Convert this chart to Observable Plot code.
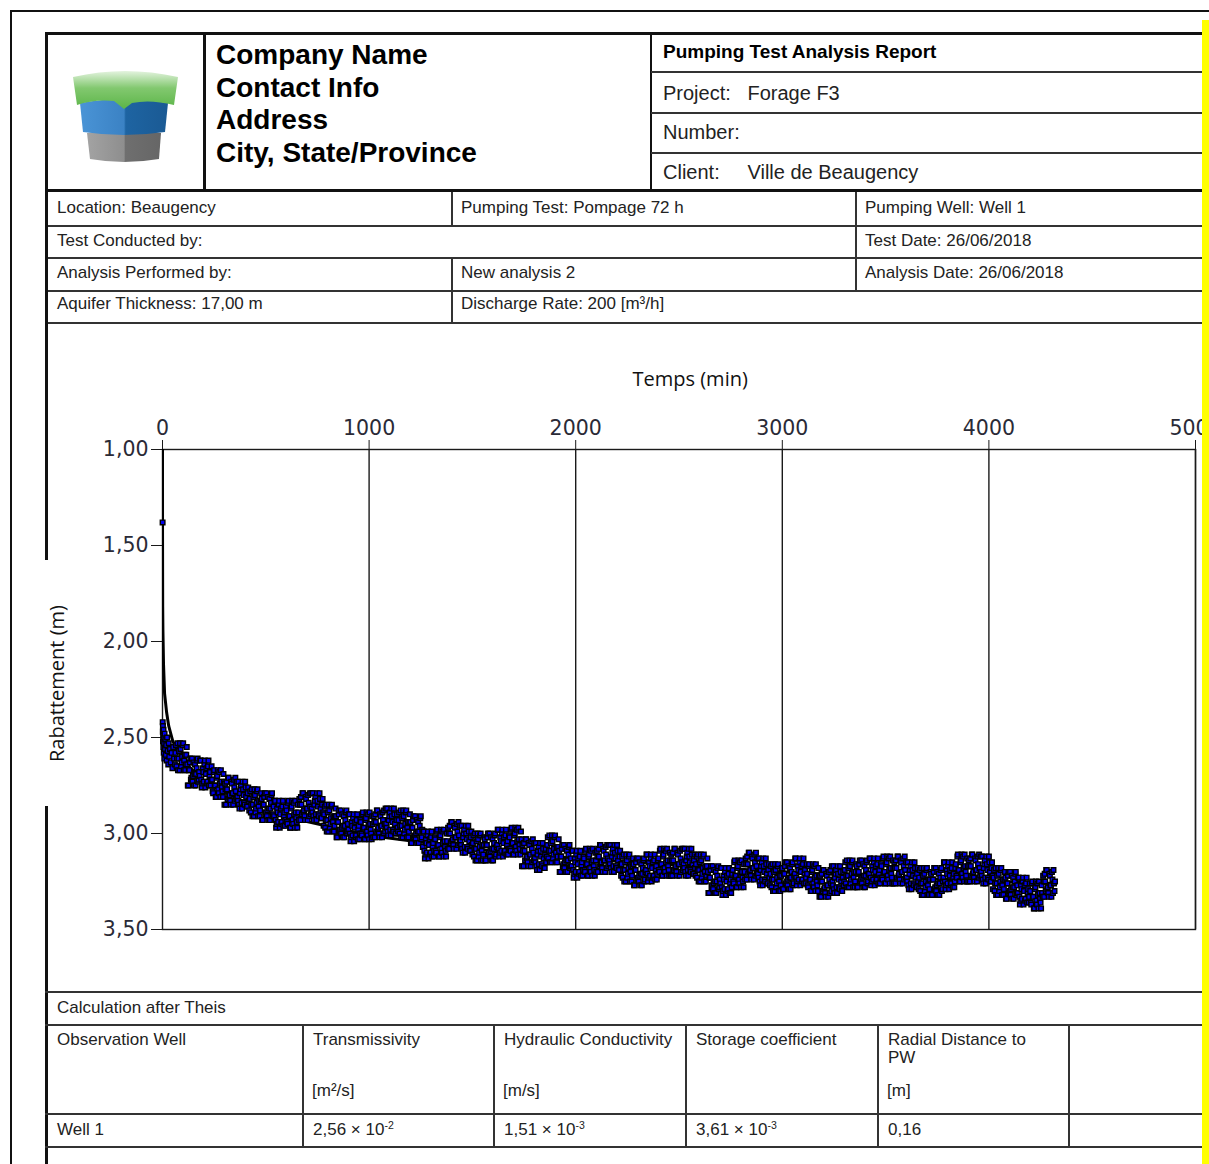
<!DOCTYPE html>
<html>
<head>
<meta charset="utf-8">
<script src="https://cdn.jsdelivr.net/npm/d3@7"></script>
<script src="https://cdn.jsdelivr.net/npm/@observablehq/plot@0.6"></script>
<style>
  html, body { margin: 0; padding: 0; background: #fff; }
  #page { position: relative; width: 1209px; height: 1164px; overflow: hidden; background: #fff; font-family: "Liberation Sans", Arial, sans-serif; color: #111; }
  .ln { position: absolute; background: #111; }
  .tx { position: absolute; white-space: nowrap; }
  #chart { position: absolute; left: 46px; top: 324px; width: 1179px; height: 666px; }
  #chart svg { overflow: visible; max-width: none !important; }
  sup { font-size: 0.62em; vertical-align: 0.55em; line-height: 0; }
</style>
</head>
<body>
<div id="page"></div>
<script>
// ---- Report header fields ----
const companyLines = ["Company Name", "Contact Info", "Address", "City, State/Province"];
const reportTitle = "Pumping Test Analysis Report";
const projectName = "Forage F3";
const clientName = "Ville de Beaugency";
const infoCells = [
  "Location: Beaugency", "Pumping Test: Pompage 72 h", "Pumping Well: Well 1",
  "Test Conducted by:", "Test Date: 26/06/2018",
  "Analysis Performed by:", "New analysis 2", "Analysis Date: 26/06/2018",
  "Aquifer Thickness: 17,00 m", "Discharge Rate: 200 [m³/h]"
];
const resultHeaders = ["Observation Well", "Transmissivity", "Hydraulic Conductivity", "Storage coefficient", "Radial Distance to<br>PW"];
const resultUnits = ["", "[m²/s]", "[m/s]", "", "[m]"];
const resultRow = ["Well 1", "2,56 × 10<sup>-2</sup>", "1,51 × 10<sup>-3</sup>", "3,61 × 10<sup>-3</sup>", "0,16"];

// ---- Chart axes ----
const xTicks = [0, 1000, 2000, 3000, 4000, 5000];
const yTicks = [1.0, 1.5, 2.0, 2.5, 3.0, 3.5];
const xTitle = "Temps (min)";
const yTitle = "Rabattement (m)";

// ---- Theis type curve (time in min, drawdown in m) ----
const curveTime = [0.01, 0.05, 0.2, 0.5, 1, 2, 5, 10, 20, 30, 50, 100, 200, 500, 1000, 1500, 2000, 3000, 4000, 4320];
const curveDrawdown = [1.00, 1.20, 1.45, 1.62, 1.82, 1.94, 2.12, 2.27, 2.37, 2.44, 2.52, 2.62, 2.73, 2.89, 3.01, 3.08, 3.13, 3.20, 3.25, 3.26];

// ---- Observed drawdown, first hour (min, m) ----
const earlyTime = [0.5, 1, 1.5, 2, 2.5, 3, 4, 5, 6, 7, 8, 9, 10, 12, 14, 16, 18, 20, 22, 25, 28, 30, 33, 36, 40, 44, 48, 52, 56];
const earlyDrawdown = [1.38, 2.42, 2.47, 2.44, 2.52, 2.49, 2.55, 2.46, 2.58, 2.50, 2.53, 2.61, 2.48, 2.56, 2.51, 2.59, 2.54, 2.62, 2.50, 2.57, 2.64, 2.53, 2.60, 2.56, 2.63, 2.58, 2.66, 2.55, 2.61];

// ---- Observed drawdown, logged every 2.5 min from 60 min to 4320 min (m), one hour per row ----
const logStartMin = 60;
const logStepMin = 2.5;
const loggedDrawdown = [
  2.64,2.58,2.54,2.65,2.61,2.53,2.67,2.61,2.57,2.67,2.53,2.56,2.65,2.63,2.60,2.54,2.53,2.67,2.62,2.59,2.67,2.64,2.59,2.55,
  2.64,2.75,2.75,2.67,2.67,2.63,2.61,2.72,2.71,2.61,2.73,2.70,2.63,2.75,2.69,2.64,2.75,2.69,2.66,2.62,2.61,2.73,2.72,2.68,
  2.70,2.62,2.62,2.72,2.76,2.74,2.66,2.68,2.73,2.64,2.62,2.76,2.69,2.66,2.74,2.73,2.65,2.62,2.75,2.70,2.68,2.75,2.72,2.65,
  2.72,2.78,2.79,2.68,2.67,2.75,2.75,2.81,2.81,2.71,2.70,2.67,2.77,2.79,2.68,2.74,2.81,2.67,2.73,2.76,2.78,2.81,2.69,2.73,
  2.85,2.74,2.77,2.85,2.73,2.77,2.82,2.71,2.71,2.81,2.80,2.83,2.85,2.73,2.74,2.79,2.79,2.85,2.72,2.76,2.83,2.71,2.78,2.82,
  2.73,2.81,2.83,2.73,2.85,2.87,2.79,2.77,2.75,2.84,2.87,2.73,2.77,2.80,2.84,2.85,2.73,2.76,2.81,2.86,2.86,2.79,2.76,2.83,
  2.88,2.82,2.78,2.89,2.85,2.77,2.91,2.85,2.81,2.91,2.77,2.80,2.89,2.87,2.84,2.78,2.77,2.91,2.86,2.83,2.91,2.88,2.83,2.79,
  2.82,2.93,2.93,2.85,2.85,2.81,2.79,2.90,2.89,2.79,2.91,2.88,2.81,2.93,2.87,2.82,2.93,2.87,2.84,2.80,2.79,2.91,2.90,2.86,
  2.91,2.83,2.83,2.93,2.97,2.95,2.87,2.89,2.94,2.85,2.83,2.97,2.90,2.87,2.95,2.94,2.86,2.83,2.96,2.91,2.89,2.96,2.93,2.86,
  2.88,2.94,2.95,2.84,2.83,2.91,2.91,2.97,2.97,2.87,2.86,2.83,2.93,2.95,2.84,2.90,2.97,2.83,2.89,2.92,2.94,2.97,2.85,2.89,
  2.93,2.82,2.85,2.93,2.81,2.85,2.90,2.79,2.79,2.89,2.88,2.91,2.93,2.81,2.82,2.87,2.87,2.93,2.80,2.84,2.91,2.79,2.86,2.90,
  2.79,2.87,2.89,2.79,2.91,2.93,2.85,2.83,2.81,2.90,2.93,2.79,2.83,2.86,2.90,2.91,2.79,2.82,2.87,2.92,2.92,2.85,2.82,2.89,
  2.96,2.90,2.86,2.97,2.93,2.85,2.99,2.93,2.89,2.99,2.85,2.88,2.97,2.95,2.92,2.86,2.85,2.99,2.94,2.91,2.99,2.96,2.91,2.87,
  2.91,3.02,3.02,2.94,2.94,2.90,2.88,2.99,2.98,2.88,3.00,2.97,2.90,3.02,2.96,2.91,3.02,2.96,2.93,2.89,2.88,3.00,2.99,2.95,
  2.98,2.90,2.90,3.00,3.04,3.02,2.94,2.96,3.01,2.92,2.90,3.04,2.97,2.94,3.02,3.01,2.93,2.90,3.03,2.98,2.96,3.03,3.00,2.93,
  2.94,3.00,3.01,2.90,2.89,2.97,2.97,3.03,3.03,2.93,2.92,2.89,2.99,3.01,2.90,2.96,3.03,2.89,2.95,2.98,3.00,3.03,2.91,2.95,
  3.02,2.91,2.94,3.02,2.90,2.94,2.99,2.88,2.88,2.98,2.97,3.00,3.02,2.90,2.91,2.96,2.96,3.02,2.89,2.93,3.00,2.88,2.95,2.99,
  2.87,2.95,2.97,2.87,2.99,3.01,2.93,2.91,2.89,2.98,3.01,2.87,2.91,2.94,2.98,2.99,2.87,2.90,2.95,3.00,3.00,2.93,2.90,2.97,
  2.99,2.93,2.89,3.00,2.96,2.88,3.02,2.96,2.92,3.02,2.88,2.91,3.00,2.98,2.95,2.89,2.88,3.02,2.97,2.94,3.02,2.99,2.94,2.90,
  2.94,3.05,3.05,2.97,2.97,2.93,2.91,3.02,3.01,2.91,3.03,3.00,2.93,3.05,2.99,2.94,3.05,2.99,2.96,2.92,2.91,3.03,3.02,2.98,
  3.07,2.99,2.99,3.09,3.13,3.11,3.03,3.05,3.10,3.01,2.99,3.13,3.06,3.03,3.11,3.10,3.02,2.99,3.12,3.07,3.05,3.12,3.09,3.02,
  3.03,3.09,3.10,2.99,2.98,3.06,3.06,3.12,3.12,3.02,3.01,2.98,3.08,3.10,2.99,3.05,3.12,2.98,3.04,3.07,3.09,3.12,3.00,3.04,
  3.08,2.97,3.00,3.08,2.96,3.00,3.05,2.94,2.94,3.04,3.03,3.06,3.08,2.96,2.97,3.02,3.02,3.08,2.95,2.99,3.06,2.94,3.01,3.05,
  2.96,3.04,3.06,2.96,3.08,3.10,3.02,3.00,2.98,3.07,3.10,2.96,3.00,3.03,3.07,3.08,2.96,2.99,3.04,3.09,3.09,3.02,2.99,3.06,
  3.11,3.05,3.01,3.12,3.08,3.00,3.14,3.08,3.04,3.14,3.00,3.03,3.12,3.10,3.07,3.01,3.00,3.14,3.09,3.06,3.14,3.11,3.06,3.02,
  3.03,3.14,3.14,3.06,3.06,3.02,3.00,3.11,3.10,3.00,3.12,3.09,3.02,3.14,3.08,3.03,3.14,3.08,3.05,3.01,3.00,3.12,3.11,3.07,
  3.06,2.98,2.98,3.08,3.12,3.10,3.02,3.04,3.09,3.00,2.98,3.12,3.05,3.02,3.10,3.09,3.01,2.98,3.11,3.06,3.04,3.11,3.08,3.01,
  3.02,3.08,3.09,2.98,2.97,3.05,3.05,3.11,3.11,3.01,3.00,2.97,3.07,3.09,2.98,3.04,3.11,2.97,3.03,3.06,3.08,3.11,2.99,3.03,
  3.17,3.06,3.09,3.17,3.05,3.09,3.14,3.03,3.03,3.13,3.12,3.15,3.17,3.05,3.06,3.11,3.11,3.17,3.04,3.08,3.15,3.03,3.10,3.14,
  3.05,3.13,3.15,3.05,3.17,3.19,3.11,3.09,3.07,3.16,3.19,3.05,3.09,3.12,3.16,3.17,3.05,3.08,3.13,3.18,3.18,3.11,3.08,3.15,
  3.12,3.06,3.02,3.13,3.09,3.01,3.15,3.09,3.05,3.15,3.01,3.04,3.13,3.11,3.08,3.02,3.01,3.15,3.10,3.07,3.15,3.12,3.07,3.03,
  3.09,3.20,3.20,3.12,3.12,3.08,3.06,3.17,3.16,3.06,3.18,3.15,3.08,3.20,3.14,3.09,3.20,3.14,3.11,3.07,3.06,3.18,3.17,3.13,
  3.17,3.09,3.09,3.19,3.23,3.21,3.13,3.15,3.20,3.11,3.09,3.23,3.16,3.13,3.21,3.20,3.12,3.09,3.22,3.17,3.15,3.22,3.19,3.12,
  3.13,3.19,3.20,3.09,3.08,3.16,3.16,3.22,3.22,3.12,3.11,3.08,3.18,3.20,3.09,3.15,3.22,3.08,3.14,3.17,3.19,3.22,3.10,3.14,
  3.20,3.09,3.12,3.20,3.08,3.12,3.17,3.06,3.06,3.16,3.15,3.18,3.20,3.08,3.09,3.14,3.14,3.20,3.07,3.11,3.18,3.06,3.13,3.17,
  3.06,3.14,3.16,3.06,3.18,3.20,3.12,3.10,3.08,3.17,3.20,3.06,3.10,3.13,3.17,3.18,3.06,3.09,3.14,3.19,3.19,3.12,3.09,3.16,
  3.22,3.16,3.12,3.23,3.19,3.11,3.25,3.19,3.15,3.25,3.11,3.14,3.23,3.21,3.18,3.12,3.11,3.25,3.20,3.17,3.25,3.22,3.17,3.13,
  3.16,3.27,3.27,3.19,3.19,3.15,3.13,3.24,3.23,3.13,3.25,3.22,3.15,3.27,3.21,3.16,3.27,3.21,3.18,3.14,3.13,3.25,3.24,3.20,
  3.19,3.11,3.11,3.21,3.25,3.23,3.15,3.17,3.22,3.13,3.11,3.25,3.18,3.15,3.23,3.22,3.14,3.11,3.24,3.19,3.17,3.24,3.21,3.14,
  3.13,3.19,3.20,3.09,3.08,3.16,3.16,3.22,3.22,3.12,3.11,3.08,3.18,3.20,3.09,3.15,3.22,3.08,3.14,3.17,3.19,3.22,3.10,3.14,
  3.22,3.11,3.14,3.22,3.10,3.14,3.19,3.08,3.08,3.18,3.17,3.20,3.22,3.10,3.11,3.16,3.16,3.22,3.09,3.13,3.20,3.08,3.15,3.19,
  3.08,3.16,3.18,3.08,3.20,3.22,3.14,3.12,3.10,3.19,3.22,3.08,3.12,3.15,3.19,3.20,3.08,3.11,3.16,3.21,3.21,3.14,3.11,3.18,
  3.22,3.16,3.12,3.23,3.19,3.11,3.25,3.19,3.15,3.25,3.11,3.14,3.23,3.21,3.18,3.12,3.11,3.25,3.20,3.17,3.25,3.22,3.17,3.13,
  3.20,3.31,3.31,3.23,3.23,3.19,3.17,3.28,3.27,3.17,3.29,3.26,3.19,3.31,3.25,3.20,3.31,3.25,3.22,3.18,3.17,3.29,3.28,3.24,
  3.26,3.18,3.18,3.28,3.32,3.30,3.22,3.24,3.29,3.20,3.18,3.32,3.25,3.22,3.30,3.29,3.21,3.18,3.31,3.26,3.24,3.31,3.28,3.21,
  3.19,3.25,3.26,3.15,3.14,3.22,3.22,3.28,3.28,3.18,3.17,3.14,3.24,3.26,3.15,3.21,3.28,3.14,3.20,3.23,3.25,3.28,3.16,3.20,
  3.24,3.13,3.16,3.24,3.12,3.16,3.21,3.10,3.10,3.20,3.19,3.22,3.24,3.12,3.13,3.18,3.18,3.24,3.11,3.15,3.22,3.10,3.17,3.21,
  3.13,3.21,3.23,3.13,3.25,3.27,3.19,3.17,3.15,3.24,3.27,3.13,3.17,3.20,3.24,3.25,3.13,3.16,3.21,3.26,3.26,3.19,3.16,3.23,
  3.27,3.21,3.17,3.28,3.24,3.16,3.30,3.24,3.20,3.30,3.16,3.19,3.28,3.26,3.23,3.17,3.16,3.30,3.25,3.22,3.30,3.27,3.22,3.18,
  3.18,3.29,3.29,3.21,3.21,3.17,3.15,3.26,3.25,3.15,3.27,3.24,3.17,3.29,3.23,3.18,3.29,3.23,3.20,3.16,3.15,3.27,3.26,3.22,
  3.21,3.13,3.13,3.23,3.27,3.25,3.17,3.19,3.24,3.15,3.13,3.27,3.20,3.17,3.25,3.24,3.16,3.13,3.26,3.21,3.19,3.26,3.23,3.16,
  3.21,3.27,3.28,3.17,3.16,3.24,3.24,3.30,3.30,3.20,3.19,3.16,3.26,3.28,3.17,3.23,3.30,3.16,3.22,3.25,3.27,3.30,3.18,3.22,
  3.33,3.22,3.25,3.33,3.21,3.25,3.30,3.19,3.19,3.29,3.28,3.31,3.33,3.21,3.22,3.27,3.27,3.33,3.20,3.24,3.31,3.19,3.26,3.30,
  3.17,3.25,3.27,3.17,3.29,3.31,3.23,3.21,3.19,3.28,3.31,3.17,3.21,3.24,3.28,3.29,3.17,3.20,3.25,3.30,3.30,3.23,3.20,3.27,
  3.25,3.19,3.15,3.26,3.22,3.14,3.28,3.22,3.18,3.28,3.14,3.17,3.26,3.24,3.21,3.15,3.14,3.28,3.23,3.20,3.28,3.25,3.20,3.16,
  3.17,3.28,3.28,3.20,3.20,3.16,3.14,3.25,3.24,3.14,3.26,3.23,3.16,3.28,3.22,3.17,3.28,3.22,3.19,3.15,3.14,3.26,3.25,3.21,
  3.21,3.13,3.13,3.23,3.27,3.25,3.17,3.19,3.24,3.15,3.13,3.27,3.20,3.17,3.25,3.24,3.16,3.13,3.26,3.21,3.19,3.26,3.23,3.16,
  3.17,3.23,3.24,3.13,3.12,3.20,3.20,3.26,3.26,3.16,3.15,3.12,3.22,3.24,3.13,3.19,3.26,3.12,3.18,3.21,3.23,3.26,3.14,3.18,
  3.26,3.15,3.18,3.26,3.14,3.18,3.23,3.12,3.12,3.22,3.21,3.24,3.26,3.14,3.15,3.20,3.20,3.26,3.13,3.17,3.24,3.12,3.19,3.23,
  3.15,3.23,3.25,3.15,3.27,3.29,3.21,3.19,3.17,3.26,3.29,3.15,3.19,3.22,3.26,3.27,3.15,3.18,3.23,3.28,3.28,3.21,3.18,3.25,
  3.29,3.23,3.19,3.30,3.26,3.18,3.32,3.26,3.22,3.32,3.18,3.21,3.30,3.28,3.25,3.19,3.18,3.32,3.27,3.24,3.32,3.29,3.24,3.20,
  3.21,3.32,3.32,3.24,3.24,3.20,3.18,3.29,3.28,3.18,3.30,3.27,3.20,3.32,3.26,3.21,3.32,3.26,3.23,3.19,3.18,3.30,3.29,3.25,
  3.23,3.15,3.15,3.25,3.29,3.27,3.19,3.21,3.26,3.17,3.15,3.29,3.22,3.19,3.27,3.26,3.18,3.15,3.28,3.23,3.21,3.28,3.25,3.18,
  3.16,3.22,3.23,3.12,3.11,3.19,3.19,3.25,3.25,3.15,3.14,3.11,3.21,3.23,3.12,3.18,3.25,3.11,3.17,3.20,3.22,3.25,3.13,3.17,
  3.25,3.14,3.17,3.25,3.13,3.17,3.22,3.11,3.11,3.21,3.20,3.23,3.25,3.13,3.14,3.19,3.19,3.25,3.12,3.16,3.23,3.11,3.18,3.22,
  3.12,3.20,3.22,3.12,3.24,3.26,3.18,3.16,3.14,3.23,3.26,3.12,3.16,3.19,3.23,3.24,3.12,3.15,3.20,3.25,3.25,3.18,3.15,3.22,
  3.29,3.23,3.19,3.30,3.26,3.18,3.32,3.26,3.22,3.32,3.18,3.21,3.30,3.28,3.25,3.19,3.18,3.32,3.27,3.24,3.32,3.29,3.24,3.20,
  3.23,3.34,3.34,3.26,3.26,3.22,3.20,3.31,3.30,3.20,3.32,3.29,3.22,3.34,3.28,3.23,3.34,3.28,3.25,3.21,3.20,3.32,3.31,3.27,
  3.31,3.23,3.23,3.33,3.37,3.35,3.27,3.29,3.34,3.25,3.23,3.37,3.30,3.27,3.35,3.34,3.26,3.23,3.36,3.31,3.29,3.36,3.33,3.26,
  3.30,3.36,3.37,3.26,3.25,3.33,3.33,3.39,3.39,3.29,3.28,3.25,3.35,3.37,3.26,3.32,3.39,3.25,3.31,3.34,3.36,3.39,3.27,3.31,
  3.33,3.22,3.25,3.33,3.21,3.25,3.30,3.19,3.19,3.29,3.28,3.31,3.33,3.21,3.22,3.27,3.27,3.33,3.20,3.24,3.31,3.19,3.26,3.30,
  3.25
];

// ---------------------------------------------------------------
const page = document.getElementById("page");

function line(x, y, w, h, color) {
  const d = document.createElement("div");
  d.className = "ln";
  Object.assign(d.style, { left: x + "px", top: y + "px", width: w + "px", height: h + "px" });
  if (color) d.style.background = color;
  page.appendChild(d);
  return d;
}
function text(x, yc, html, size, opts = {}) {
  const d = document.createElement("div");
  d.className = "tx";
  const lh = opts.lineHeight || Math.round(size * 1.15);
  Object.assign(d.style, {
    left: x + "px", top: (yc - lh / 2) + "px", fontSize: size + "px",
    lineHeight: lh + "px", fontWeight: opts.bold ? "bold" : "normal"
  });
  if (opts.family) d.style.fontFamily = opts.family;
  if (opts.color) d.style.color = opts.color;
  d.innerHTML = html;
  page.appendChild(d);
  return d;
}

// page frame
line(10, 10, 1210, 2);
line(10, 10, 2, 1160);

// header block (thick frame)
line(45, 32, 1170, 3);
line(45, 189, 1170, 3);
line(45, 32, 3, 160);
line(203, 32, 3, 160);
line(650, 32, 2, 160);
line(651, 71, 560, 1.5, "#333");
line(651, 112, 560, 1.5, "#333");
line(651, 152, 560, 1.5, "#333");

// logo
const logo = document.createElementNS("http://www.w3.org/2000/svg", "svg");
logo.setAttribute("width", "150");
logo.setAttribute("height", "150");
logo.style.position = "absolute";
logo.style.left = "50px";
logo.style.top = "37px";
logo.innerHTML = `
  <defs>
    <linearGradient id="gGreen" x1="0" y1="0" x2="0" y2="1">
      <stop offset="0" stop-color="#e3f3de"/><stop offset="0.45" stop-color="#82c86f"/><stop offset="1" stop-color="#5cb548"/>
    </linearGradient>
    <linearGradient id="gBlue" x1="0" y1="0" x2="1" y2="0">
      <stop offset="0" stop-color="#4a94d6"/><stop offset="0.5" stop-color="#3b82c4"/><stop offset="0.52" stop-color="#1e64a2"/><stop offset="1" stop-color="#1a5a94"/>
    </linearGradient>
    <linearGradient id="gGray" x1="0" y1="0" x2="1" y2="0">
      <stop offset="0" stop-color="#a3a3a3"/><stop offset="0.5" stop-color="#8e8e8e"/><stop offset="0.52" stop-color="#6f6f6f"/><stop offset="1" stop-color="#666"/>
    </linearGradient>
  </defs>
  <path d="M37,96 Q74,90 111,96 L109,122 Q74,128 40,122 Z" fill="url(#gGray)"/>
  <path d="M30,66 Q74,58 118,66 L115,95 Q74,101 33,95 Z" fill="url(#gBlue)"/>
  <path d="M23,40 Q75,28 128,40 L124,68 Q100,62 82,66 L74,72 L64,64 Q44,62 27,68 Z" fill="url(#gGreen)"/>
`;
page.appendChild(logo);

// company lines
companyLines.forEach((s, i) => text(216, 55 + i * 32.6, s, 28, { bold: true, color: "#000" }));

// report title block
text(663, 52, reportTitle, 19, { bold: true, color: "#000" });
text(663, 93, "Project:&nbsp;&nbsp;&nbsp;" + projectName, 20, { color: "#222" });
text(663, 132, "Number:", 20, { color: "#222" });
text(663, 172, "Client:&nbsp;&nbsp;&nbsp;&nbsp;&nbsp;" + clientName, 20, { color: "#222" });

// info rows
const rowY = [192, 225, 257, 290, 322];
rowY.slice(1).forEach(y => line(45, y, 1170, 1.5, "#333"));
line(451, 192, 1.5, 33, "#333");
line(451, 257, 1.5, 65, "#333");
line(855, 192, 1.5, 98, "#333");
const infoPos = [
  [57, 208], [461, 208], [865, 208],
  [57, 241], [865, 241],
  [57, 273], [461, 273], [865, 273],
  [57, 304], [461, 304]
];
infoCells.forEach((s, i) => text(infoPos[i][0], infoPos[i][1], s, 17, { color: "#222" }));

// left border of report body (interrupted by the axis title)
line(45, 192, 2.5, 368);
line(45, 806, 2.5, 360);

// results table
line(45, 991, 1170, 2, "#333");
line(45, 1024, 1170, 1.5, "#333");
line(45, 1113, 1170, 2, "#333");
line(45, 1146, 1170, 1.5, "#333");
const colX = [46, 302, 493, 685, 877, 1068];
colX.slice(1).forEach(x => line(x, 1024, 1.5, 122, "#333"));
text(57, 1008, "Calculation after Theis", 17, { color: "#222" });
resultHeaders.forEach((s, i) => {
  const d = text(colX[i] + 11, 1040, s, 17, { color: "#222", lineHeight: 18 });
  d.style.top = "1031px";
});
resultUnits.forEach((s, i) => { if (s) text(colX[i] + 10, 1091, s, 17, { color: "#222" }); });
resultRow.forEach((s, i) => text(colX[i] + 11, 1130, s, 17, { color: "#222" }));

// ---- drawdown chart ----
const curve = curveTime.map((t, i) => ({ t, s: curveDrawdown[i] }));
const observations = earlyTime.map((t, i) => ({ t, s: earlyDrawdown[i] }))
  .concat(loggedDrawdown.map((s, i) => ({ t: logStartMin + i * logStepMin, s })));

const fmtComma = d => d.toFixed(2).replace(".", ",");

const chart = Plot.plot({
  width: 1179,
  height: 666,
  marginLeft: 116,
  marginRight: 30,
  marginTop: 125,
  marginBottom: 61,
  style: { fontFamily: "DejaVu Sans, Verdana, sans-serif", fontSize: "20.5px", color: "#2a2a36", background: "transparent", overflow: "visible" },
  x: { domain: [0, 5000], label: null },
  y: { domain: [1, 3.5], reverse: true, label: null },
  marks: [
    Plot.ruleX(xTicks.slice(1), { y1: 1, y2: 3.5, stroke: "#1a1a1a", strokeWidth: 1.4 }),
    Plot.frame({ stroke: "#1a1a1a", strokeWidth: 1.4 }),
    Plot.axisX({ anchor: "top", ticks: xTicks, tickFormat: d => String(d), tickSize: 10, tickPadding: 5, stroke: "#1a1a1a", label: null }),
    Plot.axisY({ anchor: "left", ticks: yTicks, tickFormat: fmtComma, tickSize: 11, tickPadding: 3, stroke: "#1a1a1a", label: null }),
    Plot.line(curve, { x: "t", y: "s", stroke: "#000", strokeWidth: 3, clip: true }),
    Plot.dot(observations, { x: "t", y: "s", symbol: "square", r: 2.6, fill: "#0000ee", stroke: "#000", strokeWidth: 1.4 })
  ]
});
const holder = document.createElement("div");
holder.id = "chart";
holder.appendChild(chart);
page.appendChild(holder);

// axis titles
const xt = text(0, 378, xTitle, 20, { family: "'Open Sans', sans-serif", color: "#111" });
xt.style.left = (690 - xt.offsetWidth / 2) + "px";
const yt = document.createElement("div");
Object.assign(yt.style, {
  position: "absolute", left: "42px", top: "560px", width: "28px", height: "246px", background: "#fff"
});
page.appendChild(yt);
const ytl = text(0, 0, yTitle, 20, { family: "'Open Sans', sans-serif", color: "#111" });
ytl.style.transformOrigin = "center center";
ytl.style.left = (56 - ytl.offsetWidth / 2) + "px";
ytl.style.top = (683 - ytl.offsetHeight / 2) + "px";
ytl.style.transform = "rotate(-90deg)";

// right margin marker band
const band = line(1202, 20, 10, 1150, "#ffff00");
band.style.zIndex = 10;
</script>
</body>
</html>
